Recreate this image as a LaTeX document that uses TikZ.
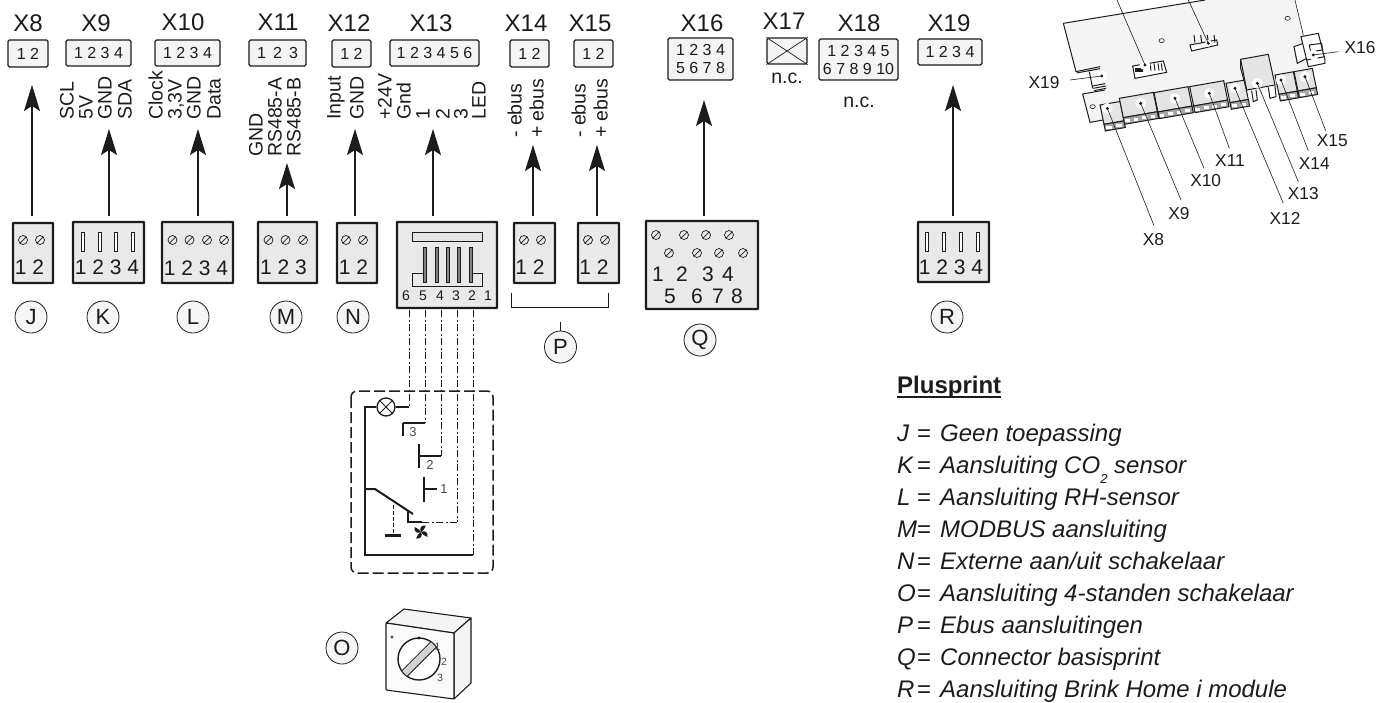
\documentclass[tikz,border=0pt]{standalone}
\usepackage{fontspec}
\setmainfont{Liberation Sans}
\usetikzlibrary{arrows.meta}
\definecolor{inkdark}{HTML}{1C1C1C}
\definecolor{boxlight}{HTML}{F4F4F4}
\definecolor{boxgrey}{HTML}{E9E9E9}
\definecolor{termgrey}{HTML}{E4E4E4}
\tikzset{
  connlabel/.style={inner sep=0pt,text=inkdark,font=\fontsize{24}{24}\selectfont},
  topbox/.style={draw=inkdark,line width=1.3pt,rounded corners=1.5pt,fill=boxlight,inner sep=0pt,
    align=center,text=inkdark,font=\fontsize{16}{18}\selectfont},
  sigtext/.style={inner sep=0pt,rotate=90,anchor=mid west,text=inkdark,font=\fontsize{19.5}{20}\selectfont},
  lowbox/.style={draw=inkdark,line width=2.4pt,rounded corners=0.5pt,fill=boxgrey,inner sep=0pt},
  lowdigit/.style={inner sep=0pt,text=inkdark,font=\fontsize{21}{21}\selectfont},
  refcircle/.style={draw=inkdark,line width=0.8pt,circle,minimum size=32pt,inner sep=0pt,fill=white!96!black,
    text=inkdark,font=\fontsize{22}{22}\selectfont},
  feed/.style={line width=1.5pt,draw=inkdark,-{Stealth[length=26pt,width=16pt,inset=5pt]}},
  wiredash/.style={line width=1pt,draw=inkdark,dash pattern=on 7pt off 2.5pt on 2pt off 2.5pt},
  wiresolid/.style={line width=1.2pt,draw=inkdark},
  contactbar/.style={line width=2.4pt,draw=inkdark},
  smalldigit/.style={inner sep=0pt,text=inkdark!80,font=\fontsize{12}{12}\selectfont},
  boardline/.style={line width=0.6pt,draw=inkdark},
  boardedge/.style={line width=1pt,draw=inkdark},
  boardlabel/.style={inner sep=0pt,text=inkdark,font=\fontsize{17.3}{18}\selectfont},
  legendtext/.style={inner sep=0pt,anchor=base west,text=inkdark,font=\fontsize{24}{24}\itshape\selectfont},
  screw/.pic={
    \draw[line width=0.7pt,draw=inkdark] (0,0) circle (4.5);
    \draw[line width=0.7pt,draw=inkdark] (-3.2,3.2)--(3.2,-3.2);
  },
  slot/.pic={
    \draw[line width=0.7pt,draw=inkdark,fill=white] (-1.5,-9.5) rectangle (1.5,9.5);
  },
}
% terminal block on the small board: left, top, width, contacts
\newcommand{\termblock}[4]{
  \draw[boardedge,fill=termgrey] (#1,#2)--++(#3,-0.175*#3)--++(12,58)--++(-#3,0.175*#3)--cycle;
  \draw[boardedge,fill=gray!70] (#1+12,#2+58)--++(#3,-0.175*#3)--++(4,20)--++(-#3,0.175*#3)--cycle;
  \foreach \p in {1,...,#4}{
    \fill[white] (#1+12+#3*\p/#4-#3/#4*0.8,#2+64-0.175*#3*\p/#4+0.175*#3/#4*0.8) rectangle ++(#3/#4*0.55,9);
  }
}
\begin{document}
\begin{tikzpicture}[x=1pt,y=-1pt]
  \useasboundingbox (0,0) rectangle (1391,702);

  % connector names
  \foreach \n/\x/\y in {8/28/23,9/96/23,10/183/22,11/278/22,12/349/23,13/431/23,14/526/23,15/590/23,
      16/702/23,17/784/21,18/859/23,19/949/23}
    \node[connlabel] (name\n) at (\x,\y) {X\n};

  % connectors on the print
  \node[topbox,minimum width=40,minimum height=27] (x8) at (28,53.5) {1 2};
  \node[topbox,minimum width=65,minimum height=26] (x9) at (98.5,53) {1 2 3 4};
  \node[topbox,minimum width=65,minimum height=26] (x10) at (187.5,53) {1 2 3 4};
  \node[topbox,minimum width=57,minimum height=26] (x11) at (277.5,53) {1\, 2\, 3};
  \node[topbox,minimum width=39,minimum height=27] (x12) at (351.5,53.5) {1 2};
  \node[topbox,minimum width=89,minimum height=26] (x13) at (434.5,53) {1 2 3 4 5 6};
  \node[topbox,minimum width=39,minimum height=27] (x14) at (529.5,53.5) {1 2};
  \node[topbox,minimum width=39,minimum height=27] (x15) at (593.5,53.5) {1 2};
  \node[topbox,minimum width=65,minimum height=42] (x16) at (700.5,59) {1 2 3 4\\5 6 7 8};
  \node[topbox,minimum width=40,minimum height=26] (x17) at (787,51) {};
  \draw[line width=0.7pt,draw=inkdark] (x17.north west)--(x17.south east) (x17.south west)--(x17.north east);
  \node[topbox,minimum width=79,minimum height=41] (x18) at (858.5,59.5) {1 2 3 4 5\\6 7 8 9 10};
  \node[topbox,minimum width=64,minimum height=26] (x19) at (950,52) {1 2 3 4};
  \node[sigtext,rotate=-90,anchor=center] (nc17) at (787,78) {n.c.};
  \node[sigtext,rotate=-90,anchor=center] (nc18) at (859,102) {n.c.};

  % signal names
  \foreach \t/\x/\y [count=\i] in {SCL/71/120,5V/90/120,GND/109/120,SDA/129/120,
      Clock/160/120,{3,3V}/179/120,GND/198/120,Data/218/120,
      GND/260/157,RS485-A/279/157,RS485-B/298/157,
      Input/338/120,GND/361/120,
      +24V/389/120,Gnd/408/120,1/427/120,2/447/120,3/465/120,LED/483/120,
      - ebus/519/138,+ ebus/541/138,- ebus/583/138,+ ebus/605/138}
    \node[sigtext] (sig\i) at (\x,\y) {\t};

  % plugs
  \node[lowbox,minimum width=40,minimum height=60] (plugJ) at (33,253) {};
  \node[lowbox,minimum width=71,minimum height=61] (plugK) at (108.5,252.5) {};
  \node[lowbox,minimum width=71,minimum height=61] (plugL) at (197.5,252.5) {};
  \node[lowbox,minimum width=59,minimum height=61] (plugM) at (287.5,252.5) {};
  \node[lowbox,minimum width=40,minimum height=60] (plugN) at (357,253) {};
  \node[lowbox,minimum width=100,minimum height=86] (plugO) at (447,265) {};
  \node[lowbox,minimum width=41,minimum height=60] (plugPa) at (534.5,253) {};
  \node[lowbox,minimum width=41,minimum height=60] (plugPb) at (598.5,253) {};
  \node[lowbox,minimum width=112,minimum height=88] (plugQ) at (702,265) {};
  \node[lowbox,minimum width=71,minimum height=60] (plugR) at (953.5,252) {};

  \foreach \x/\y in {23/240,40/240,172.5/240,189.5/240,207/240,224/240,268.5/240,285.5/240,303/240,
      346/240,363/240,524/240,541/240,588/240,605/240,
      656/235,684/235,706/235,729/235,669/253,697/253,719/253,743/253}
    \pic at (\x,\y) {screw};
  \foreach \x in {82.5,99.5,116,133,927,944,961,978}
    \pic at (\x,241.5) {slot};

  \node[lowdigit] (numJ) at (29.5,267) {1 2};
  \node[lowdigit] (numK) at (107,267) {1 2 3 4};
  \node[lowdigit] (numL) at (196,268) {1 2 3 4};
  \node[lowdigit] (numM) at (283.5,267) {1 2 3};
  \node[lowdigit] (numN) at (353.5,267) {1 2};
  \node[lowdigit] (numPa) at (530,267) {1 2};
  \node[lowdigit] (numPb) at (594,267) {1 2};
  \node[lowdigit] (numR) at (951,267) {1 2 3 4};
  \foreach \t/\x/\y in {1/658/274,2/682/274,3/708/274,4/728/274,5/670/296,6/697/296,7/718/296,8/737/296}
    \node[lowdigit] (numQ\t) at (\x,\y) {\t};

  % modular jack
  \draw[line width=0.7pt,draw=inkdark,fill=white!90!black] (412,232) rectangle (482,241);
  \draw[line width=0.7pt,draw=inkdark] (425,273)--(412,273)--(412,286)--(482,286)--(482,273)--(470,273);
  \foreach \x in {425,437,448,459,471}
    \draw[line width=0.5pt,draw=inkdark,fill=inkdark!55] (\x-1.4,247) rectangle (\x+1.4,282);
  \foreach \t/\x in {6/406,5/423,4/440,3/456,2/472,1/488}
    \node[inner sep=0pt,text=inkdark,font=\fontsize{14}{14}\selectfont] (pin\t) at (\x,296) {\t};

  % arrows
  \foreach \p/\x/\y in {J/32/85,K/109/129,L/198/129,M/287/163,N/355/129,O/433/129,Pa/533/145,Pb/597/145,Q/704/100,R/953/85}{
    \coordinate (tip\p) at (\x,\y);
    \coordinate (foot\p) at (\x,216);
    \draw[feed] (foot\p)--(tip\p);
  }

  % letters
  \node[refcircle] (refJ) at (31,317) {J};
  \node[refcircle] (refK) at (103,317) {K};
  \node[refcircle] (refL) at (193,317) {L};
  \node[refcircle] (refM) at (286,317) {M};
  \node[refcircle] (refN) at (353,317) {N};
  \node[refcircle] (refP) at (560.5,347) {P};
  \node[refcircle] (refQ) at (700,340) {Q};
  \node[refcircle] (refR) at (947,317) {R};
  \node[refcircle] (refO) at (342,648) {O};
  \coordinate (brleft) at (511,293);
  \coordinate (brright) at (608,293);
  \draw[line width=0.6pt,draw=inkdark] (brleft)--++(0,14)-|(brright);
  \draw[line width=0.6pt,draw=inkdark] (refP.north)--++(0,-9);

  % switch circuit
  \draw[line width=1.5pt,draw=inkdark,dash pattern=on 11pt off 4pt,rounded corners=6pt] (351,391) rectangle (493,573);
  \node[draw=inkdark,line width=1.3pt,circle,minimum size=18pt,inner sep=0pt] (lamp) at (386,407) {};
  \draw[line width=1pt,draw=inkdark] (lamp.north west)--(lamp.south east) (lamp.south west)--(lamp.north east);
  \foreach \n/\x in {a/409,b/425,c/441,d/457,e/473}
    \coordinate (wire\n) at (\x,310);
  \coordinate (benda) at (409,407);
  \coordinate (bendb) at (425,423);
  \coordinate (bendc) at (441,456);
  \coordinate (bendd) at (457,522);
  \coordinate (bende) at (473,555);
  \foreach \n in {a,b,c,d,e}
    \draw[wiredash] (wire\n)--(bend\n);
  \draw[wiresolid] (benda)--(lamp);
  \draw[line width=1.5pt,draw=inkdark] (lamp)--(365,407)--(365,555)--(bende);
  \draw[wiresolid] (bendb)--(403,423);
  \draw[contactbar] (403,423)--(403,436);
  \draw[wiresolid] (bendc)--(419,456);
  \draw[contactbar] (419,444)--(419,468);
  \draw[contactbar] (424,477)--(424,502);
  \draw[contactbar,line width=1.6pt] (424,489)--(437,489);
  \node[smalldigit,font=\fontsize{13}{13}\selectfont] (lev3) at (413,432) {3};
  \node[smalldigit,font=\fontsize{13}{13}\selectfont] (lev2) at (430,465) {2};
  \node[smalldigit,font=\fontsize{13}{13}\selectfont] (lev1) at (444,489) {1};
  \draw[wiredash] (bendd)--(422,522);
  \draw[contactbar,line width=1.7pt] (422,522)--(408,522)--(408,510);
  \draw[contactbar,line width=2pt] (365,489)--(375,489)--(413,514);
  \draw[line width=0.7pt,draw=inkdark,dash pattern=on 4pt off 2pt] (393,505)--(393,535);
  \draw[contactbar] (385,535.5)--(401,535.5);
  \foreach \a in {0,90,180,270}
    \fill[inkdark,rotate around={\a:(421,532)}] (421,532)..controls (419,528) and (421,525) .. (426,525.5)..controls (424.5,527.5) and (424.5,530) .. (421,532)--cycle;

  % rotary switch
  \draw[line width=1.1pt,draw=inkdark,fill=boxlight,line join=round] (386,623)--(404,609)--(471,618)--(454,633)--cycle;
  \draw[line width=1.1pt,draw=inkdark,fill=boxlight,line join=round] (454,633)--(471,618)--(471,683)--(454,699)--cycle;
  \draw[line width=1.1pt,draw=inkdark,fill=boxlight!50,line join=round,rounded corners=1pt] (386,623)--(454,633)--(454,699)--(386,690)--cycle;
  \node[draw=inkdark,line width=1.4pt,circle,minimum size=42pt,inner sep=0pt,fill=white] (knob) at (419,659) {};
  \begin{scope}
    \clip (knob) circle (20.5);
    \draw[line width=8.5pt,draw=inkdark] (396,682)--(442,636);
    \draw[line width=6.5pt,draw=gray!35] (396,682)--(442,636);
  \end{scope}
  \draw[line width=0.5pt,draw=inkdark] (392,637) circle (1.3);
  \fill[inkdark] (419,638) circle (1.7);
  \node[smalldigit,font=\fontsize{10.5}{10.5}\selectfont] (dial1) at (437.5,646.5) {1};
  \node[smalldigit,font=\fontsize{10.5}{10.5}\selectfont] (dial2) at (444,662) {2};
  \node[smalldigit,font=\fontsize{10.5}{10.5}\selectfont] (dial3) at (440,678) {3};

  % small board
  \begin{scope}[shift={(1020,0)},x=0.3333pt,y=-0.3333pt]
    \fill[boxlight] (130,70)--(555,0)--(825,0)--(888,250)--(210,367)--(188,282)--(255,270)--(210,215)--(168,215)--cycle;
    \draw[boardedge] (130,70)--(555,0);
    \draw[boardedge] (130,70)--(168,215)--(240,200);
    \draw[boardedge] (170,219)--(240,206);
    \draw[boardedge] (208,215)--(218,265);
    \draw[boardedge] (218,258)--(255,251) (220,265)--(258,258) (222,272)--(258,265);
    \draw[boardedge] (188,282)--(255,270);
    \draw[boardedge] (188,282)--(210,367)--(250,360);
    \draw[boardline] (218,320) ellipse (8 and 6);
    \draw[boardline] (425,122) ellipse (8 and 6);
    \draw[boardline] (803,55) ellipse (8 and 6);
    \termblock{240}{315}{60}{2}
    \termblock{298}{295}{102}{4}
    \termblock{402}{278}{102}{4}
    \termblock{509}{260}{102}{4}
    \termblock{618}{250}{55}{2}
    \termblock{765}{225}{55}{2}
    \termblock{822}{215}{55}{2}
    % modular jack
    \draw[boardedge,fill=termgrey] (662,178)--(745,163)--(765,255)--(680,270)--(662,205)--cycle;
    \draw[boardedge] (662,178)--(680,270);
    \draw[boardedge,fill=white] (695,272)--(700,305)--(712,300)--(708,270);
    \draw[boardedge,fill=white] (745,262)--(750,295)--(768,290)--(765,258);
    % pin header and socket
    \draw[boardedge,fill=white] (510,135)--(590,120)--(593,135)--(515,153)--cycle;
    \foreach \x in {525,545,565,585}
      \draw[boardedge] (\x,128)--(\x-3,105);
    \draw[boardedge,fill=white] (338,198)--(430,183)--(440,217)--(345,235)--cycle;
    \foreach \x in {390,402,414,424}
      \draw[boardedge] (\x,190)--(\x+3,212);
    \fill[inkdark] (345,205) rectangle (370,215);
    % connector X16
    \draw[boardedge,fill=white] (822,140)--(850,130)--(860,175)--(832,190)--cycle;
    \draw[boardedge,fill=white] (843,110)--(895,100)--(915,180)--(915,190)--(865,200)--cycle;
    \draw[boardedge] (868,135)--(905,130)--(908,150)--(872,155)--cycle;
    \draw[boardedge] (860,180)--(915,170);
    % leaders
    \foreach \n/\ax/\ay/\bx/\by/\lx/\ly in {8/262/325/402/677/400/718,9/362/310/483/600/477/640,
        10/465/295/552/505/557/543,11/568/280/628/445/630/482,12/645/265/790/610/795/655,
        13/712/250/835/545/850/580,14/783/240/865/452/883/490,15/855/230/917/392/937/423,
        16/880/165/955/155/1020/143,19/245/228/150/240/72/248}{
      \coordinate (lead\n) at (\ax,\ay);
      \coordinate (end\n) at (\bx,\by);
      \fill[white] (lead\n) circle (16);
      \draw[boardline] (lead\n)--(end\n);
      \fill[inkdark] (lead\n) circle (5);
      \node[boardlabel] (board\n) at (\lx,\ly) {X\n};
    }
    \coordinate (leadA) at (375,195);
    \coordinate (endA) at (291,0);
    \coordinate (leadB) at (565,130);
    \coordinate (endB) at (505,0);
    \coordinate (leadC) at (850,105);
    \coordinate (endC) at (825,0);
    \fill[white] (leadA) circle (16) (leadB) circle (10);
    \foreach \n in {A,B,C}
      \draw[boardline] (lead\n)--(end\n);
    \fill[inkdark] (leadA) circle (5) (leadB) circle (5);
  \end{scope}

  % legend
  \node[inner sep=0pt,anchor=base west,text=inkdark,font=\fontsize{24}{24}\bfseries\selectfont] (legendhead) at (897,393) {Plusprint};
  \draw[line width=1.5pt,draw=inkdark] ([yshift=-4pt]legendhead.base west)--([yshift=-4pt]legendhead.base east);
  \foreach \k/\t/\y in {J/Geen toepassing/441.5,K/{Aansluiting CO\smash{\raisebox{-9.5pt}{\fontsize{13}{13}\selectfont 2}} sensor}/473.5,
      L/Aansluiting RH-sensor/505.5,M/MODBUS aansluiting/537.5,N/Externe aan\slash uit schakelaar/569.5,
      O/Aansluiting 4-standen schakelaar/601.5,P/Ebus aansluitingen/633.5,Q/Connector basisprint/665.5,
      R/Aansluiting Brink Home i module/697.5}{
    \node[legendtext] (key\k) at (897,\y) {\k};
    \node[legendtext,font=\fontsize{24}{24}\selectfont] (eq\k) at (917,\y) {=};
    \node[legendtext] (text\k) at (940,\y) {\t};
  }
\end{tikzpicture}
\end{document}
